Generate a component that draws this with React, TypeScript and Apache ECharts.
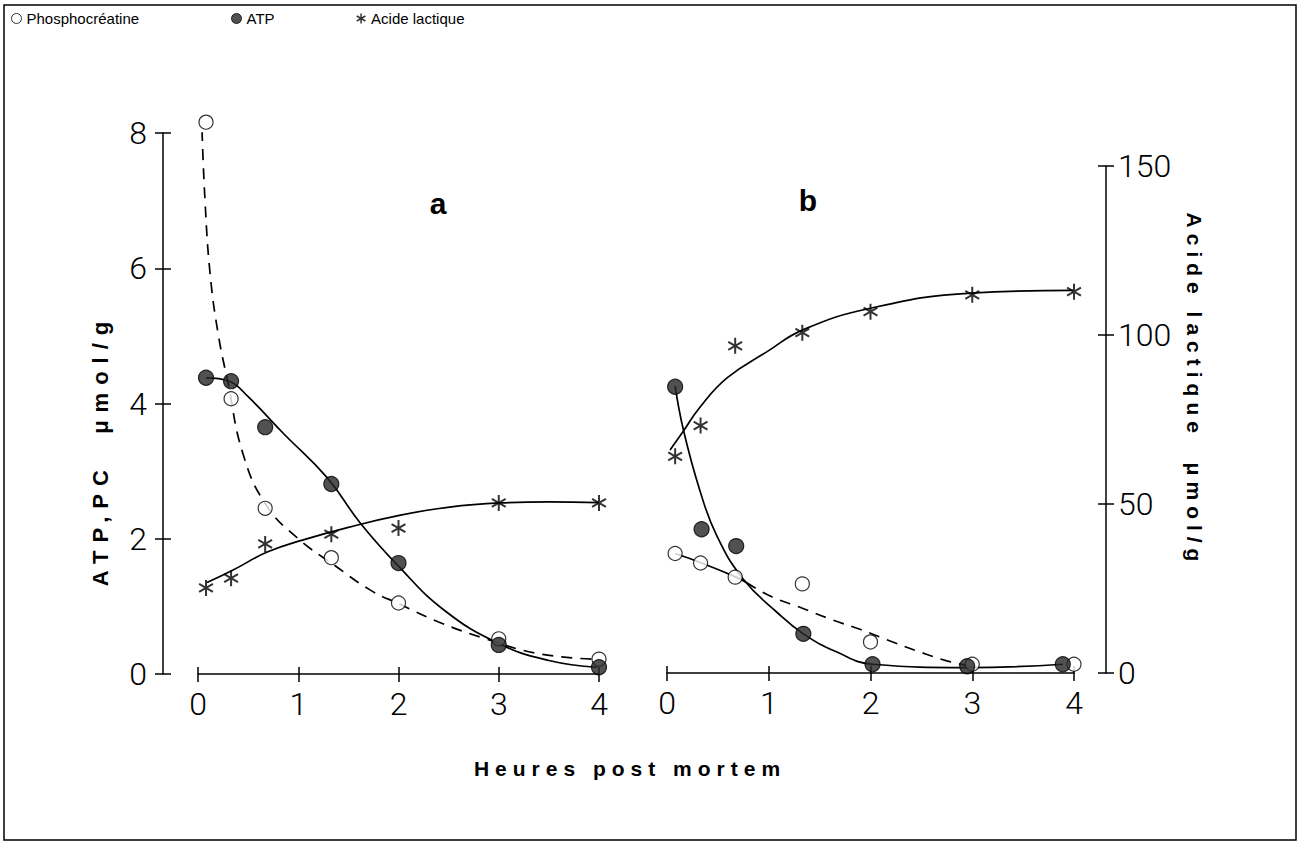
import React, { useEffect, useRef } from "react";
import * as echarts from "echarts";

// Sampling times (hours post mortem)
const hours = [0.08, 0.33, 0.67, 1.33, 2, 3, 4];
const atpBHours = [0.08, 0.34, 0.68, 1.34, 2.02, 2.95, 3.89];

// Panel a measured values
const pcA = [8.16, 4.07, 2.45, 1.72, 1.05, 0.52, 0.22];
const atpA = [4.38, 4.33, 3.65, 2.81, 1.64, 0.43, 0.1];
const lacA = [25.4, 28.3, 38.4, 41.3, 43.1, 50.5, 50.5];

// Panel b measured values
const pcB = [1.77, 1.63, 1.42, 1.32, 0.46, 0.13, 0.13];
const atpB = [4.24, 2.13, 1.88, 0.58, 0.13, 0.1, 0.13];
const lacB = [64.1, 73.2, 96.8, 100.7, 106.9, 111.9, 112.8];

// Fitted curves as drawn in the figure: [hour, value]
const pcCurveA = [
  [0.04, 8.04], [0.07, 7.0], [0.12, 5.93], [0.2, 5.04], [0.3, 4.3], [0.45, 3.25],
  [0.68, 2.5], [1.0, 2.0], [1.35, 1.62], [1.72, 1.24], [2.0, 1.04], [2.4, 0.77],
  [2.85, 0.53], [3.4, 0.3], [3.95, 0.22],
];
const atpCurveA = [
  [0.08, 4.38], [0.31, 4.33], [0.5, 4.1], [0.85, 3.56], [1.29, 2.9], [1.62, 2.23],
  [1.99, 1.61], [2.45, 0.95], [3.0, 0.45], [3.5, 0.2], [3.98, 0.1],
];
const lacCurveA = [
  [0.09, 27], [0.35, 30.7], [0.69, 36], [1.05, 39.6], [1.5, 43.3], [2.02, 46.9],
  [2.51, 49.3], [3.01, 50.5], [3.5, 50.8], [4.0, 50.6],
];
const atpCurveB = [
  [0.08, 4.25], [0.16, 3.61], [0.32, 2.72], [0.49, 2.03], [0.75, 1.39], [1.08, 0.9],
  [1.34, 0.58], [1.67, 0.31], [2.02, 0.13], [2.95, 0.08], [3.89, 0.13],
];
const pcCurveBSolid = [[0.08, 1.77], [0.34, 1.63], [0.68, 1.42], [0.78, 1.34]];
const pcCurveBDashed = [
  [0.78, 1.34], [1.03, 1.13], [1.33, 0.96], [1.62, 0.79], [1.91, 0.64], [2.2, 0.47],
  [2.47, 0.32], [2.75, 0.18], [2.95, 0.11],
];
const lacCurveB = [
  [0.03, 66], [0.16, 71.5], [0.32, 78.5], [0.59, 87.3], [0.98, 95], [1.34, 101.6],
  [2.01, 108], [2.99, 112.4], [3.99, 113.2],
];

// Axis ticks
const hourTicks = [0, 1, 2, 3, 4];
const atpTicks = [0, 2, 4, 6, 8];
const lacTicks = [0, 50, 100, 150];

// Texts
const legendNames = ["Phosphocréatine", "ATP", "Acide lactique"];
const panelLabels = ["a", "b"];
const xTitle = "Heures post mortem";
const leftTitle = "ATP,PC  μmol/g";
const rightTitle = "Acide lactique  μmol/g";

const STAR = "path://M5,0L5,10M0.67,2.5L9.33,7.5M0.67,7.5L9.33,2.5";

const pair = (xs: number[], ys: number[]) => xs.map((x, i) => [x, ys[i]]);

function buildOption() {
  const black = "#000";
  const dark = "#262626";
  const axisLineStyle = { color: black, width: 1.5 };
  const tickLabel = {
    fontFamily: "Roboto",
    fontWeight: 300,
    fontSize: 32,
    color: black,
  };
  const hMin = hourTicks[0];
  const hMax = hourTicks[hourTicks.length - 1];
  const hInt = hourTicks[1] - hourTicks[0];

  const xAxis: any[] = [];
  [0, 1].forEach((g) => {
    xAxis.push({
      type: "value", gridIndex: g, position: "bottom", min: hMin, max: hMax, interval: hInt,
      axisLine: { show: true, onZero: false, lineStyle: axisLineStyle },
      axisTick: { show: true, inside: false, length: 8, lineStyle: axisLineStyle },
      axisLabel: { ...tickLabel, margin: 14 },
      splitLine: { show: false },
    });
    xAxis.push({
      type: "value", gridIndex: g, position: "bottom", min: hMin, max: hMax, interval: hInt,
      axisLine: { show: false, onZero: false },
      axisTick: { show: true, inside: true, length: 7, lineStyle: axisLineStyle },
      axisLabel: { show: false },
      splitLine: { show: false },
    });
  });
  [2, 3].forEach((g) => {
    xAxis.push({ type: "value", gridIndex: g, min: hMin, max: hMax, show: false });
  });

  const aMin = atpTicks[0];
  const aMax = atpTicks[atpTicks.length - 1];
  const aInt = atpTicks[1] - atpTicks[0];
  const lMin = lacTicks[0];
  const lMax = lacTicks[lacTicks.length - 1];
  const lInt = lacTicks[1] - lacTicks[0];

  const yAxis: any[] = [
    {
      type: "value", gridIndex: 0, position: "left", offset: 35, min: aMin, max: aMax, interval: aInt,
      axisLine: { show: true, onZero: false, lineStyle: axisLineStyle },
      axisTick: { show: true, inside: false, length: 8, lineStyle: axisLineStyle },
      axisLabel: { ...tickLabel, margin: 16 },
      splitLine: { show: false },
    },
    {
      type: "value", gridIndex: 0, position: "left", offset: 35, min: aMin, max: aMax, interval: aInt,
      axisLine: { show: false, onZero: false },
      axisTick: { show: true, inside: true, length: 8, lineStyle: axisLineStyle },
      axisLabel: { show: false },
      splitLine: { show: false },
    },
    { type: "value", gridIndex: 1, min: aMin, max: aMax, show: false },
    { type: "value", gridIndex: 2, min: lMin, max: lMax, show: false },
    {
      type: "value", gridIndex: 3, position: "right", offset: 32, min: lMin, max: lMax, interval: lInt,
      axisLine: { show: true, onZero: false, lineStyle: axisLineStyle },
      axisTick: { show: true, inside: false, length: 8, lineStyle: axisLineStyle },
      axisLabel: { ...tickLabel, margin: 12 },
      splitLine: { show: false },
    },
    {
      type: "value", gridIndex: 3, position: "right", offset: 32, min: lMin, max: lMax, interval: lInt,
      axisLine: { show: false, onZero: false },
      axisTick: { show: true, inside: true, length: 8, lineStyle: axisLineStyle },
      axisLabel: { show: false },
      splitLine: { show: false },
    },
  ];

  const curve = (name: string, data: number[][], xi: number, yi: number, dashed: boolean) => ({
    type: "line", name, data, xAxisIndex: xi, yAxisIndex: yi,
    showSymbol: false, symbol: "none", smooth: 0.45,
    lineStyle: { color: black, width: 1.7, type: dashed ? [11, 8] : "solid" },
    silent: true, z: 2,
  });

  const markStyle: Record<string, any> = {
    [legendNames[0]]: {
      symbol: "circle", symbolSize: 14,
      itemStyle: { color: "#fff", borderColor: black, borderWidth: 1.2 }, z: 3,
    },
    [legendNames[1]]: {
      symbol: "circle", symbolSize: 15,
      itemStyle: { color: dark, borderColor: black, borderWidth: 1.2 }, z: 4,
    },
    [legendNames[2]]: {
      symbol: STAR, symbolSize: 16, symbolKeepAspect: true,
      itemStyle: { color: "rgba(0,0,0,0)", borderColor: black, borderWidth: 2 }, z: 4,
    },
  };
  const marks = (name: string, xs: number[], ys: number[], xi: number, yi: number) => ({
    type: "scatter", name, data: pair(xs, ys), xAxisIndex: xi, yAxisIndex: yi,
    silent: true, clip: false, ...markStyle[name],
  });

  const series = [
    curve("PC courbe a", pcCurveA, 0, 0, true),
    curve("ATP courbe a", atpCurveA, 0, 0, false),
    curve("Lactique courbe a", lacCurveA, 4, 3, false),
    curve("PC courbe b", pcCurveBSolid, 2, 2, false),
    curve("PC courbe b tirets", pcCurveBDashed, 2, 2, true),
    curve("ATP courbe b", atpCurveB, 2, 2, false),
    curve("Lactique courbe b", lacCurveB, 5, 4, false),
    marks(legendNames[0], hours, pcA, 0, 0),
    marks(legendNames[1], hours, atpA, 0, 0),
    marks(legendNames[2], hours, lacA, 4, 3),
    marks(legendNames[0], hours, pcB, 2, 2),
    marks(legendNames[1], atpBHours, atpB, 2, 2),
    marks(legendNames[2], hours, lacB, 5, 4),
  ];

  const legendText = { fontFamily: "Arial", fontSize: 15, color: black };
  const legendBase = { top: 6, itemWidth: 10, itemHeight: 10, selectedMode: false, textStyle: legendText };

  return {
    animation: false,
    backgroundColor: "#fff",
    legend: [
      {
        ...legendBase, left: 6,
        data: [{ name: legendNames[0], icon: "circle", itemStyle: { color: "#fff", borderColor: black, borderWidth: 1 } }],
      },
      {
        ...legendBase, left: 226,
        data: [{ name: legendNames[1], icon: "circle", itemStyle: { color: dark, borderColor: black, borderWidth: 1 } }],
      },
      {
        ...legendBase, left: 351,
        data: [{ name: legendNames[2], icon: STAR, itemStyle: { color: "rgba(0,0,0,0)", borderColor: black, borderWidth: 1.5 } }],
      },
    ],
    grid: [
      { left: 198, top: 133, width: 401, height: 541 },
      { left: 667, top: 133, width: 407, height: 540 },
      { left: 198, top: 166, width: 401, height: 508 },
      { left: 667, top: 166, width: 407, height: 507 },
    ],
    xAxis,
    yAxis,
    series,
    graphic: [
      {
        type: "rect", silent: true, z: 0,
        shape: { x: 4, y: 5, width: 1292, height: 835 },
        style: { fill: "none", stroke: black, lineWidth: 1.5 },
      },
      {
        type: "text", x: 438, y: 203,
        style: { text: panelLabels[0], font: 'bold 30px "Liberation Sans"', fill: black, align: "center", verticalAlign: "middle" },
      },
      {
        type: "text", x: 808, y: 200,
        style: { text: panelLabels[1], font: 'bold 30px "Liberation Sans"', fill: black, align: "center", verticalAlign: "middle" },
      },
      {
        type: "text", x: 100, y: 450, rotation: Math.PI / 2,
        style: { text: leftTitle, font: 'bold 22px "Liberation Sans"', fill: black, align: "center", verticalAlign: "middle" },
      },
      {
        type: "text", x: 1194, y: 390, rotation: -Math.PI / 2,
        style: { text: rightTitle, font: 'bold 21px "Liberation Sans"', fill: black, align: "center", verticalAlign: "middle" },
      },
      {
        type: "text", x: 630, y: 768,
        style: { text: xTitle, font: 'bold 21px "Liberation Sans"', fill: black, align: "center", verticalAlign: "middle" },
      },
    ],
  };
}

export default function App() {
  const ref = useRef<HTMLDivElement>(null);
  useEffect(() => {
    document.body.style.margin = "0";
    if (!ref.current) return;
    const chart = echarts.init(ref.current, undefined, { renderer: "svg" });
    chart.setOption(buildOption() as any);
    return () => chart.dispose();
  }, []);
  return (
    <>
      <style>{`
        svg text[style*="21px"], svg text[font-size="21"], svg text[font-size="21px"] { letter-spacing: 6px; }
        svg text[style*="22px"], svg text[font-size="22"], svg text[font-size="22px"] { letter-spacing: 8px; }
      `}</style>
      <div ref={ref} style={{ width: 1305, height: 843, background: "#fff" }} />
    </>
  );
}
